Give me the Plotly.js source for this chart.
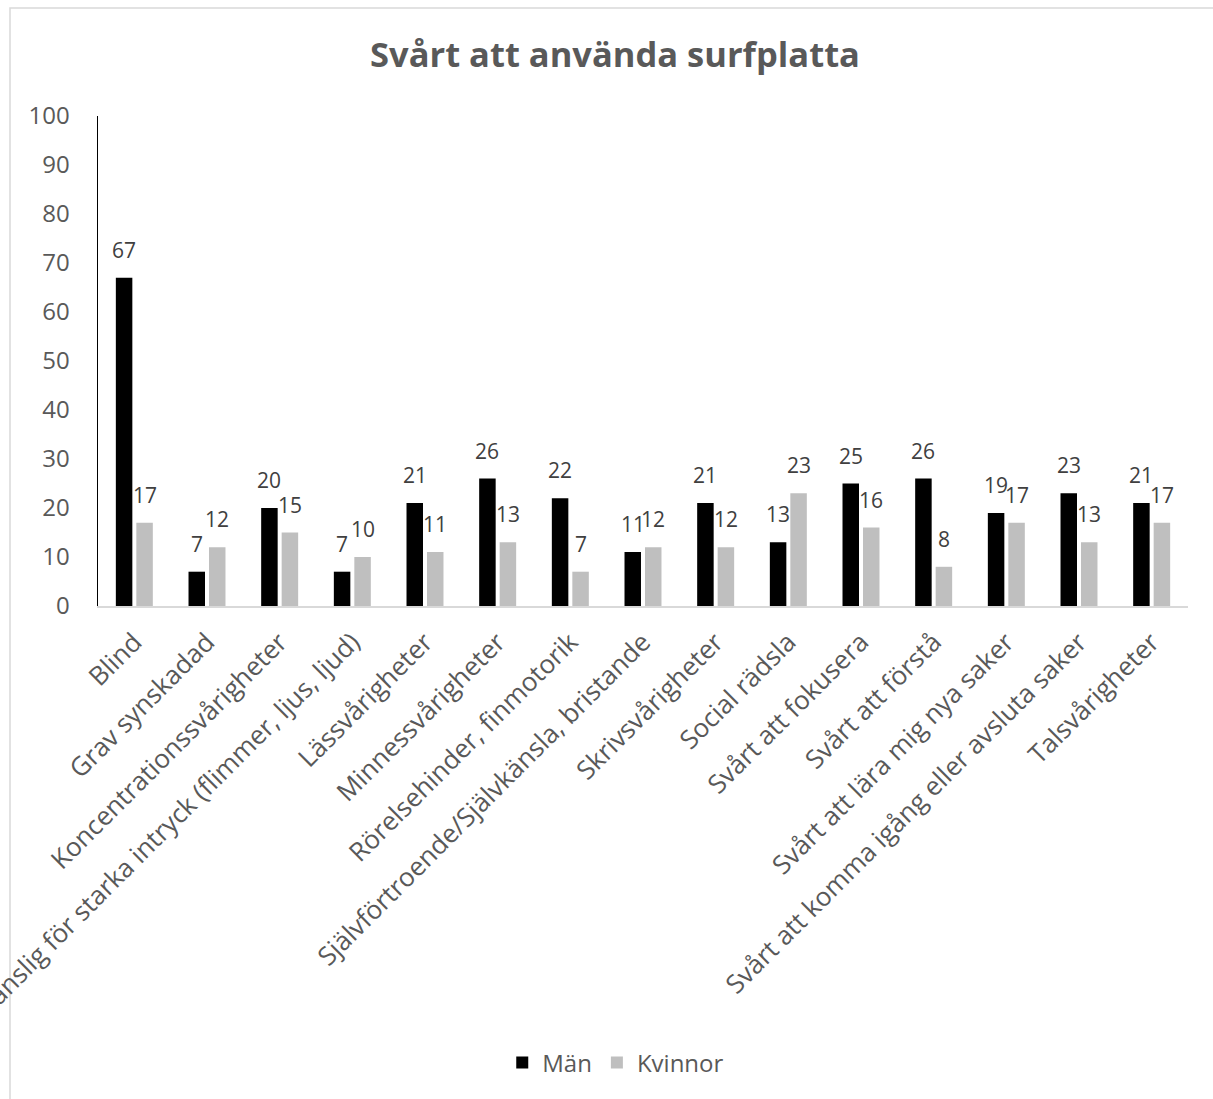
<!DOCTYPE html>
<html>
<head>
<meta charset="utf-8">
<script src="https://cdn.plot.ly/plotly-3.0.1.min.js"></script>
<style>
  html, body { margin: 0; padding: 0; background: #ffffff; }
  #chart { width: 1213px; height: 1099px; }
</style>
</head>
<body>
<div id="chart"></div>
<script>
const categories = [
  "Blind",
  "Grav synskadad",
  "Koncentrationssvårigheter",
  "Känslig för starka intryck (flimmer, ljus, ljud)",
  "Lässvårigheter",
  "Minnessvårigheter",
  "Rörelsehinder, finmotorik",
  "Självförtroende/Självkänsla, bristande",
  "Skrivsvårigheter",
  "Social rädsla",
  "Svårt att fokusera",
  "Svårt att förstå",
  "Svårt att lära mig nya saker",
  "Svårt att komma igång eller avsluta saker",
  "Talsvårigheter"
];
const man = [67, 7, 20, 7, 21, 26, 22, 11, 21, 13, 25, 26, 19, 23, 21];
const kvinnor = [17, 12, 15, 10, 11, 13, 7, 12, 12, 23, 16, 8, 17, 13, 17];
const yTicks = [0, 10, 20, 30, 40, 50, 60, 70, 80, 90, 100];

const FONT = "Open Sans, Segoe UI, sans-serif";
const TXT = "#595959";
const LABEL = "#404040";

const traces = [
  {
    type: "bar", name: "Män", x: categories, y: man,
    marker: { color: "#000000" },
    hoverinfo: "x+y"
  },
  {
    type: "bar", name: "Kvinnor", x: categories, y: kvinnor,
    marker: { color: "#bfbfbf" },
    hoverinfo: "x+y"
  }
];

// data labels placed through the axes (category x, value y)
function labels(values, xshift) {
  return values.map((v, i) => ({
    x: categories[i], y: v, xref: "x", yref: "y",
    text: String(v), showarrow: false,
    xanchor: "center", yanchor: "bottom",
    xshift: xshift, yshift: 12,
    font: { family: FONT, size: 21, color: LABEL }
  }));
}

const layout = {
  width: 1213, height: 1099,
  paper_bgcolor: "#ffffff", plot_bgcolor: "#ffffff",
  margin: { l: 98, r: 25, t: 116, b: 493, autoexpand: false },
  font: { family: FONT, color: TXT },
  title: {
    text: "<b>Svårt att använda surfplatta</b>",
    font: { family: FONT, size: 34.5, color: TXT },
    x: 0.507, xanchor: "center", xref: "container",
    y: 1 - 55 / 1099, yanchor: "middle", yref: "container"
  },
  barmode: "group",
  bargap: 0.436,
  bargroupgap: 0.195,
  xaxis: {
    type: "category",
    tickangle: -45,
    tickfont: { family: FONT, size: 26, color: TXT },
    showline: true, linecolor: "#d9d9d9", linewidth: 1.5,
    showgrid: false, zeroline: false, ticks: "",
    ticklabelstandoff: 9,
    automargin: false
  },
  yaxis: {
    range: [0, 100],
    tickvals: yTicks,
    ticktext: yTicks.map(String),
    tickfont: { family: FONT, size: 24, color: TXT },
    showline: true, linecolor: "#000000", linewidth: 1.5,
    showgrid: false, zeroline: false, ticks: "",
    ticklabelstandoff: 22,
    automargin: false
  },
  showlegend: true,
  legend: {
    orientation: "h",
    x: 0.475, xanchor: "center",
    y: (606 - 1063) / 490, yanchor: "middle",
    font: { family: FONT, size: 24, color: TXT },
    itemclick: false, itemdoubleclick: false
  },
  annotations: labels(man, -10.25).concat(labels(kvinnor, 10.25)),
  shapes: [
    {
      type: "rect", xref: "paper", yref: "paper",
      x0: (10 - 98) / 1090, x1: 1.2,
      y0: -1.2, y1: (606 - 8) / 490,
      line: { color: "#d9d9d9", width: 1.5 },
      fillcolor: "rgba(0,0,0,0)",
      layer: "below"
    }
  ]
};

Plotly.newPlot("chart", traces, layout, { displayModeBar: false, staticPlot: true });
</script>
</body>
</html>
